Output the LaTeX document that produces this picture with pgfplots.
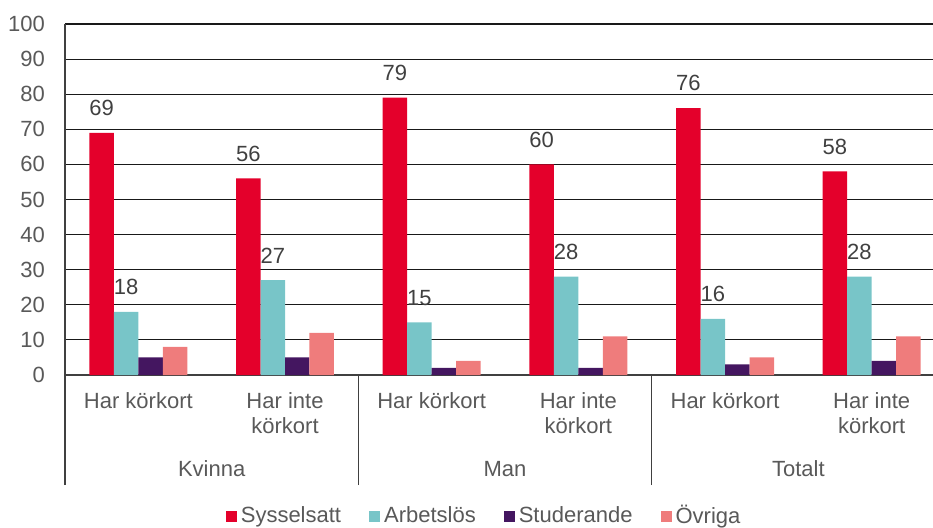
\documentclass[border=0pt]{standalone}
\usepackage{pgfplots}
\pgfplotsset{compat=1.18}
\usepackage{fontspec}
\setmainfont{Liberation Sans}
\definecolor{cRed}{RGB}{228,0,43}
\definecolor{cTeal}{RGB}{120,197,200}
\definecolor{cPurple}{RGB}{68,22,96}
\definecolor{cPink}{RGB}{239,124,124}
\definecolor{txt}{RGB}{89,89,89}
\definecolor{lbl}{RGB}{64,64,64}
\begin{document}
\begin{tikzpicture}
\begin{axis}[
  name=ax, anchor=south west, at={(0,0)},
  scale only axis, width=434pt, height=175.5pt,
  ymin=0, ymax=100, ytick={0,10,...,100},
  xmin=-0.5, xmax=5.418,
  ybar=0pt, bar width=0.167,
  clip=false,
  axis x line=bottom, axis y line=left,
  axis line style={-, line width=0.6pt, color=black!75},
  ymajorgrids, grid style={line width=0.55pt, color=black!90},
  major tick length=0pt,
  xtick={0,...,5},
  xticklabels={Har körkort, Har inte\\körkort, Har körkort, Har inte\\körkort, Har körkort, Har inte\\körkort},
  xticklabel style={align=center, text=txt, font=\fontsize{11}{12.5}\selectfont, yshift=-5pt},
  yticklabel style={text=txt, font=\fontsize{11}{12.5}\selectfont, xshift=-6.5pt},
  /pgf/number format/assume math mode=true,
  extra x ticks={-0.5,1.5,3.5},
  extra x tick labels={},
  extra x tick style={major tick length=55pt, tick align=outside, tick style={line width=0.6pt, color=black!75}},
  legend style={draw=none, at={(0.484,-0.402)}, anchor=center, legend columns=4,
    font=\fontsize{11}{12.5}\selectfont, text=txt,
    /tikz/every even column/.append style={column sep=12pt}},
  legend image code/.code={\fill[#1, draw=none] (0pt,-2.75pt) rectangle (5.5pt,2.75pt);},
]
\addplot[fill=cRed, draw=none, nodes near coords, every node near coord/.append style={anchor=south, yshift=5pt, text=lbl, font=\fontsize{11}{12.5}\selectfont}]
  coordinates {(0,69) (1,56) (2,79) (3,60) (4,76) (5,58)};
\addplot[fill=cTeal, draw=none, nodes near coords, every node near coord/.append style={anchor=south, yshift=5pt, text=lbl, font=\fontsize{11}{12.5}\selectfont}]
  coordinates {(0,18) (1,27) (2,15) (3,28) (4,16) (5,28)};
\addplot[fill=cPurple, draw=none]
  coordinates {(0,5) (1,5) (2,2) (3,2) (4,3) (5,4)};
\addplot[fill=cPink, draw=none]
  coordinates {(0,8) (1,12) (2,4) (3,11) (4,5) (5,11)};
\legend{Sysselsatt, Arbetslös, Studerande, Övriga}
\node[text=txt, font=\fontsize{11}{12.5}\selectfont] at (axis cs:0.5,0) [yshift=-47pt] {Kvinna};
\node[text=txt, font=\fontsize{11}{12.5}\selectfont] at (axis cs:2.5,0) [yshift=-47pt] {Man};
\node[text=txt, font=\fontsize{11}{12.5}\selectfont] at (axis cs:4.5,0) [yshift=-47pt] {Totalt};
\end{axis}
\pgfresetboundingbox
\useasboundingbox (-32.5pt,-76pt) rectangle (434pt,187.5pt);
\end{tikzpicture}
\end{document}
